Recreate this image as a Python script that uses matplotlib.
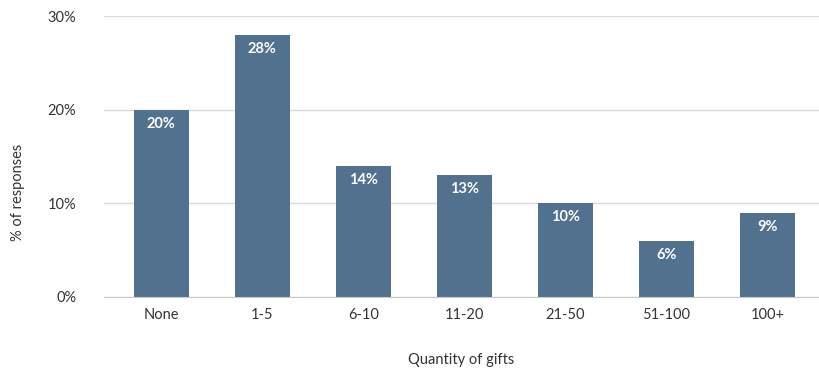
import matplotlib.pyplot as plt

plt.rcParams['font.family'] = ['Lato', 'DejaVu Sans']

categorias = ["None", "1-5", "6-10", "11-20", "21-50", "51-100", "100+"]
valores = [20, 28, 14, 13, 10, 6, 9]
yticks = [0, 10, 20, 30]

fig = plt.figure(figsize=(8.19, 3.68), dpi=100)
ax = fig.add_axes([104/819, 1 - 297/368, 715/819, 281/368])

x = range(len(categorias))
barras = ax.bar(x, valores, width=0.545, color="#52718f", zorder=2)

# etiquetas dentro de las barras
for xi, v in zip(x, valores):
    ax.annotate(f"{v}%", (xi, v), xytext=(0, -5), textcoords="offset points",
                ha="center", va="top", color="white", fontsize=10.5, fontweight="bold")

ax.set_xlim(-0.565, 6.51)
ax.set_ylim(0, 30)
ax.set_yticks(yticks)
ax.set_yticklabels([f"{t}%" for t in yticks])
ax.set_xticks(list(x))
ax.set_xticklabels(categorias)
ax.tick_params(length=0, labelsize=10.5, colors="#333333")
ax.tick_params(axis="y", pad=20)
ax.tick_params(axis="x", pad=8)
ax.grid(axis="y", color="#d9d9d9", linewidth=1, zorder=0)
for s in ["top", "right", "left"]:
    ax.spines[s].set_visible(False)
ax.spines["bottom"].set_color("#c8c8c8")

fig.text(461/819, 1 - 360/368, "Quantity of gifts", ha="center", va="center",
         fontsize=10.5, color="#333333")
fig.text(18/819, 1 - 192/368, "% of responses", ha="center", va="center",
         rotation=90, fontsize=10.5, color="#333333")

fig.savefig("out.png", dpi=100)
